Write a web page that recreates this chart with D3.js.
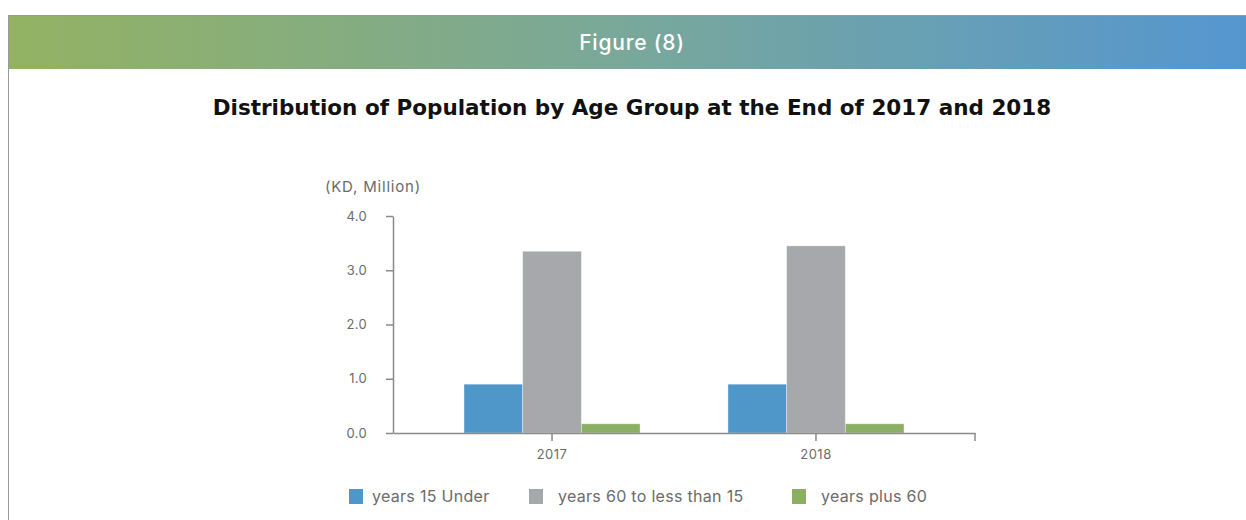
<!DOCTYPE html>
<html>
<head>
<meta charset="utf-8">
<script src="https://cdn.jsdelivr.net/npm/d3@7"></script>
<style>
  html, body { margin: 0; padding: 0; background: #fff; }
  svg { display: block; font-family: Inter, "Open Sans", sans-serif; }
</style>
</head>
<body>
<svg id="chart" width="1246" height="520"></svg>
<script>
"use strict";

// years on the x axis
var years = ["2017", "2018"];
// age groups (legend order)
var groups = ["years 15 Under", "years 60 to less than 15", "years plus 60"];
// population values per group, one value per year
var under15 = [0.90, 0.90];
var from15to60 = [3.35, 3.45];
var over60 = [0.17, 0.17];
var yTicks = [0, 1, 2, 3, 4];

var colors = ["#4f96c9", "#a7a8ab", "#8cb063"];

(function () {
    var rows = years.map(function (y, i) {
        return { year: y, values: [under15[i], from15to60[i], over60[i]] };
    });

    var svg = d3.select("#chart");

    // header band with a green to blue gradient
    var defs = svg.append("defs");
    var grad = defs.append("linearGradient").attr("id", "hdr")
        .attr("x1", "0%").attr("x2", "100%").attr("y1", "0%").attr("y2", "0%");
    grad.append("stop").attr("offset", "0%").attr("stop-color", "#93b262");
    grad.append("stop").attr("offset", "50%").attr("stop-color", "#79a89a");
    grad.append("stop").attr("offset", "100%").attr("stop-color", "#5596d0");

    svg.append("rect")
        .attr("x", 8).attr("y", 15).attr("width", 1238).attr("height", 54)
        .attr("fill", "url(#hdr)");
    svg.append("line")
        .attr("x1", 8).attr("x2", 1246).attr("y1", 15.5).attr("y2", 15.5)
        .attr("stroke", "#9a9a9a").attr("stroke-width", 1);
    svg.append("line")
        .attr("x1", 8.5).attr("x2", 8.5).attr("y1", 15).attr("y2", 520)
        .attr("stroke", "#9a9a9a").attr("stroke-width", 1);

    svg.append("text")
        .attr("x", 632).attr("y", 42)
        .attr("dy", "0.36em")
        .attr("text-anchor", "middle")
        .attr("fill", "#fff")
        .style("font-size", "21px")
        .style("font-weight", 500)
        .style("letter-spacing", "0.8px")
        .text("Figure (8)");

    svg.append("text")
        .attr("x", 632).attr("y", 107)
        .attr("dy", "0.36em")
        .attr("text-anchor", "middle")
        .attr("fill", "#111")
        .style("font-family", "'DejaVu Sans', sans-serif")
        .style("font-size", "21.5px")
        .style("font-weight", 700)
        .text("Distribution of Population by Age Group at the End of 2017 and 2018");

    // plot area
    var pLeft = 393, pRight = 975, pTop = 216, pBottom = 433;

    var x0 = d3.scaleBand()
        .domain(years)
        .range([pLeft, pRight])
        .paddingInner(0.333)
        .paddingOuter(0.269);

    var x1 = d3.scaleBand()
        .domain(d3.range(groups.length))
        .range([0, x0.bandwidth()])
        .padding(0);

    var y = d3.scaleLinear()
        .domain([0, 4])
        .range([pBottom, pTop]);

    // bars
    var yearG = svg.append("g").selectAll(".year")
        .data(rows)
      .enter().append("g")
        .attr("class", "year")
        .attr("transform", function (d) { return "translate(" + x0(d.year) + ",0)"; });

    yearG.selectAll("rect")
        .data(function (d) { return d.values; })
      .enter().append("rect")
        .attr("x", function (d, i) { return x1(i); })
        .attr("width", x1.bandwidth())
        .attr("y", function (d) { return y(d); })
        .attr("height", function (d) { return pBottom - y(d); })
        .attr("fill", function (d, i) { return colors[i]; })
        .attr("stroke", "#fff")
        .attr("stroke-opacity", 0.45)
        .attr("stroke-width", 0.8);

    // y axis
    var yAxis = svg.append("g")
        .attr("transform", "translate(" + pLeft + ",0)")
        .call(d3.axisLeft(y).tickValues(yTicks).tickFormat(d3.format(".1f"))
            .tickSize(7).tickSizeOuter(0).tickPadding(19));
    yAxis.selectAll("text").attr("fill", "#6b6b6b")
        .style("font-size", "13px").style("letter-spacing", "0.3px");

    // x axis
    var xAxis = svg.append("g")
        .attr("transform", "translate(0," + pBottom + ")")
        .call(d3.axisBottom(x0).tickSize(8).tickSizeOuter(0).tickPadding(9));
    xAxis.selectAll("text").attr("fill", "#6b6b6b")
        .style("font-size", "13px").style("letter-spacing", "0.5px");
    xAxis.append("line")
        .attr("class", "endtick")
        .attr("x1", pRight).attr("x2", pRight).attr("y1", 0).attr("y2", 8);

    svg.selectAll(".domain, .tick line, .endtick").attr("stroke", "#8a8a8a").attr("stroke-width", 1.5);
    svg.selectAll(".tick text").style("font-family", "Inter, sans-serif");

    svg.append("text")
        .attr("x", 373).attr("y", 187)
        .attr("dy", "0.35em")
        .attr("text-anchor", "middle")
        .attr("fill", "#6b6b6b")
        .style("font-size", "15px")
        .style("letter-spacing", "0.8px")
        .text("(KD, Million)");

    // legend
    var legendX = [349, 529, 792];
    var legend = svg.selectAll(".legend")
        .data(groups)
      .enter().append("g")
        .attr("class", "legend")
        .attr("transform", function (d, i) { return "translate(" + legendX[i] + ",489)"; });
    legend.append("rect")
        .attr("width", 14).attr("height", 15)
        .attr("fill", function (d, i) { return colors[i]; });
    legend.append("text")
        .attr("x", function (d, i) { return i === 0 ? 23 : 29; })
        .attr("y", 7.5)
        .attr("dy", "0.35em")
        .attr("fill", "#6b6b6b")
        .style("font-size", "16px")
        .style("letter-spacing", "0.3px")
        .text(function (d) { return d; });
})();
</script>
</body>
</html>
